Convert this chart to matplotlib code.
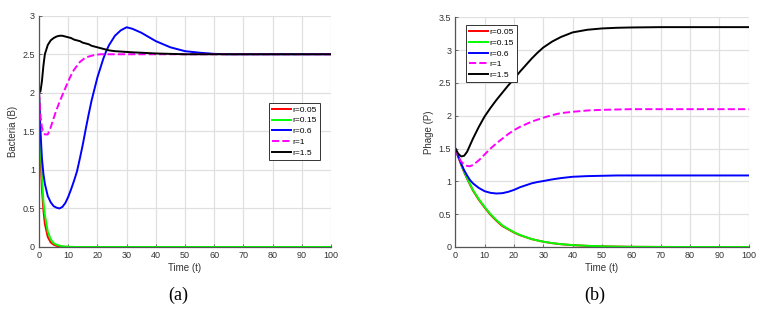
import matplotlib.pyplot as plt

# time points (a)
t_bac = [0, 0.5, 1, 1.5, 2, 3, 4, 5, 6, 7, 8, 9, 10, 11, 12, 13, 14, 15, 16, 17, 18, 19, 20,
         21, 22, 23, 24, 26, 28, 30, 32, 35, 40, 45, 50, 55, 60, 65, 70, 80, 90, 100]

# Bacteria (B)
bac_005 = [2.0, 1.2, 0.75, 0.48, 0.3, 0.13, 0.06, 0.03, 0.015, 0.008, 0.004, 0.002, 0.001, 0, 0, 0, 0, 0, 0, 0, 0, 0, 0,
           0, 0, 0, 0, 0, 0, 0, 0, 0, 0, 0, 0, 0, 0, 0, 0, 0, 0, 0]
bac_015 = [2.0, 1.35, 0.9, 0.6, 0.42, 0.2, 0.1, 0.05, 0.03, 0.018, 0.01, 0.006, 0.003, 0.002, 0.001, 0, 0, 0, 0, 0, 0, 0, 0,
           0, 0, 0, 0, 0, 0, 0, 0, 0, 0, 0, 0, 0, 0, 0, 0, 0, 0, 0]
bac_06 = [2.0, 1.5, 1.15, 0.95, 0.82, 0.66, 0.58, 0.53, 0.51, 0.5, 0.52, 0.57, 0.65, 0.75, 0.86, 0.98, 1.15, 1.33, 1.53, 1.72, 1.9, 2.05, 2.2,
          2.32, 2.44, 2.54, 2.62, 2.74, 2.81, 2.85, 2.83, 2.78, 2.67, 2.59, 2.54, 2.52, 2.505, 2.5, 2.5, 2.5, 2.5, 2.5]
bac_1 = [2.0, 1.7, 1.55, 1.49, 1.46, 1.46, 1.55, 1.67, 1.78, 1.88, 1.97, 2.06, 2.15, 2.23, 2.3, 2.35, 2.4, 2.43, 2.46, 2.47, 2.48, 2.49, 2.495,
         2.5, 2.5, 2.5, 2.5, 2.5, 2.5, 2.5, 2.5, 2.5, 2.5, 2.5, 2.5, 2.5, 2.5, 2.5, 2.5, 2.5, 2.5, 2.5]
bac_15 = [2.0, 2.02, 2.15, 2.35, 2.5, 2.62, 2.68, 2.71, 2.73, 2.74, 2.74, 2.73, 2.72, 2.71, 2.69, 2.68, 2.67, 2.65, 2.64, 2.63, 2.61, 2.6, 2.59,
          2.58, 2.57, 2.56, 2.55, 2.54, 2.535, 2.53, 2.525, 2.52, 2.51, 2.505, 2.5, 2.5, 2.5, 2.5, 2.5, 2.5, 2.5, 2.5]

# time points (b)
t_ph = [0, 1, 2, 3, 4, 5, 6, 8, 10, 12, 14, 16, 18, 20, 22, 24, 26, 28, 30, 33, 36,
        40, 45, 50, 55, 60, 70, 80, 90, 100]

# Phage (P)
ph_005 = [1.5, 1.37, 1.25, 1.14, 1.04, 0.95, 0.86, 0.72, 0.6, 0.49, 0.4, 0.32, 0.27, 0.22, 0.18, 0.15, 0.12, 0.1, 0.08, 0.058, 0.042,
          0.028, 0.017, 0.01, 0.006, 0.003, 0.001, 0, 0, 0]
ph_015 = [1.5, 1.38, 1.26, 1.15, 1.05, 0.96, 0.87, 0.73, 0.61, 0.5, 0.41, 0.33, 0.275, 0.225, 0.185, 0.152, 0.122, 0.1, 0.082, 0.06, 0.044,
          0.029, 0.018, 0.011, 0.006, 0.003, 0.001, 0, 0, 0]
ph_06 = [1.5, 1.38, 1.27, 1.17, 1.09, 1.02, 0.97, 0.9, 0.85, 0.825, 0.815, 0.82, 0.84, 0.87, 0.91, 0.94, 0.97, 0.99, 1.005, 1.03, 1.05,
         1.07, 1.08, 1.085, 1.09, 1.09, 1.09, 1.09, 1.09, 1.09]
ph_1 = [1.5, 1.38, 1.3, 1.26, 1.235, 1.23, 1.25, 1.32, 1.41, 1.5, 1.58, 1.65, 1.72, 1.78, 1.83, 1.87, 1.91, 1.94, 1.97, 2.01, 2.04,
        2.06, 2.08, 2.09, 2.095, 2.1, 2.1, 2.1, 2.1, 2.1]
ph_15 = [1.5, 1.42, 1.38, 1.39, 1.45, 1.55, 1.65, 1.83, 1.99, 2.12, 2.24, 2.35, 2.46, 2.56, 2.67, 2.77, 2.87, 2.96, 3.04, 3.13, 3.2,
         3.27, 3.31, 3.33, 3.34, 3.345, 3.35, 3.35, 3.35, 3.35]

labels = ['r=0.05', 'r=0.15', 'r=0.6', 'r=1', 'r=1.5']
colors = ['#ff0000', '#00ff00', '#0000ff', '#ff00ff', '#000000']
styles = ['-', '-', '-', '--', '-']

plt.rcParams['font.family'] = ['Liberation Sans', 'DejaVu Sans']

fig = plt.figure(figsize=(7.65, 3.11), dpi=100)
ax1 = fig.add_axes([0.051, 0.2058, 0.3817, 0.7437])
ax2 = fig.add_axes([0.5952, 0.2058, 0.3835, 0.7386])


def style_axes(ax, ymax, ystep, ylabel):
    ax.set_xlim(0, 100)
    ax.set_ylim(0, ymax)
    ax.set_xticks(range(0, 101, 10))
    yt = [i * ystep for i in range(int(round(ymax / ystep)) + 1)]
    ax.set_yticks(yt)
    ax.set_yticklabels(['%g' % v for v in yt])
    ax.grid(True, color='#e0e0e0', linewidth=0.9)
    ax.set_axisbelow(True)
    for s in ['top', 'right']:
        ax.spines[s].set_visible(False)
    for s in ['left', 'bottom']:
        ax.spines[s].set_color('#555555')
        ax.spines[s].set_linewidth(0.9)
    ax.tick_params(direction='in', length=2.5, width=0.6, color='#555555',
                   labelsize=6.5, labelcolor='#333333', pad=3)
    ax.set_xlabel('Time (t)', fontsize=7, color='#333333', labelpad=2)
    ax.set_ylabel(ylabel, fontsize=7, color='#333333', labelpad=3)


def add_legend(ax, anchor):
    leg = ax.legend(loc='upper left', bbox_to_anchor=anchor, fontsize=6,
                    frameon=True, fancybox=False, handlelength=2.3, handletextpad=0.2,
                    borderpad=0.35, labelspacing=0.36, borderaxespad=0)
    leg.get_frame().set_edgecolor('#333333')
    leg.get_frame().set_linewidth(0.7)
    leg.get_frame().set_alpha(1)
    return leg


bac = [bac_005, bac_015, bac_06, bac_1, bac_15]
for y, lab, c, ls in zip(bac, labels, colors, styles):
    ax1.plot(t_bac, y, color=c, linestyle=ls, linewidth=1.4, label=lab)
style_axes(ax1, 3, 0.5, 'Bacteria (B)')
add_legend(ax1, (0.788, 0.623))

ph = [ph_005, ph_015, ph_06, ph_1, ph_15]
for y, lab, c, ls in zip(ph, labels, colors, styles):
    ax2.plot(t_ph, y, color=c, linestyle=ls, linewidth=1.4, label=lab)
style_axes(ax2, 3.5, 0.5, 'Phage (P)')
add_legend(ax2, (0.036, 0.966))

fig.text(178 / 765, 1 - 295 / 311, '(a)', ha='center', va='center', fontsize=13,
         family=['Liberation Serif', 'DejaVu Serif'])
fig.text(595 / 765, 1 - 295 / 311, '(b)', ha='center', va='center', fontsize=13,
         family=['Liberation Serif', 'DejaVu Serif'])

fig.savefig('out.png', dpi=100)
